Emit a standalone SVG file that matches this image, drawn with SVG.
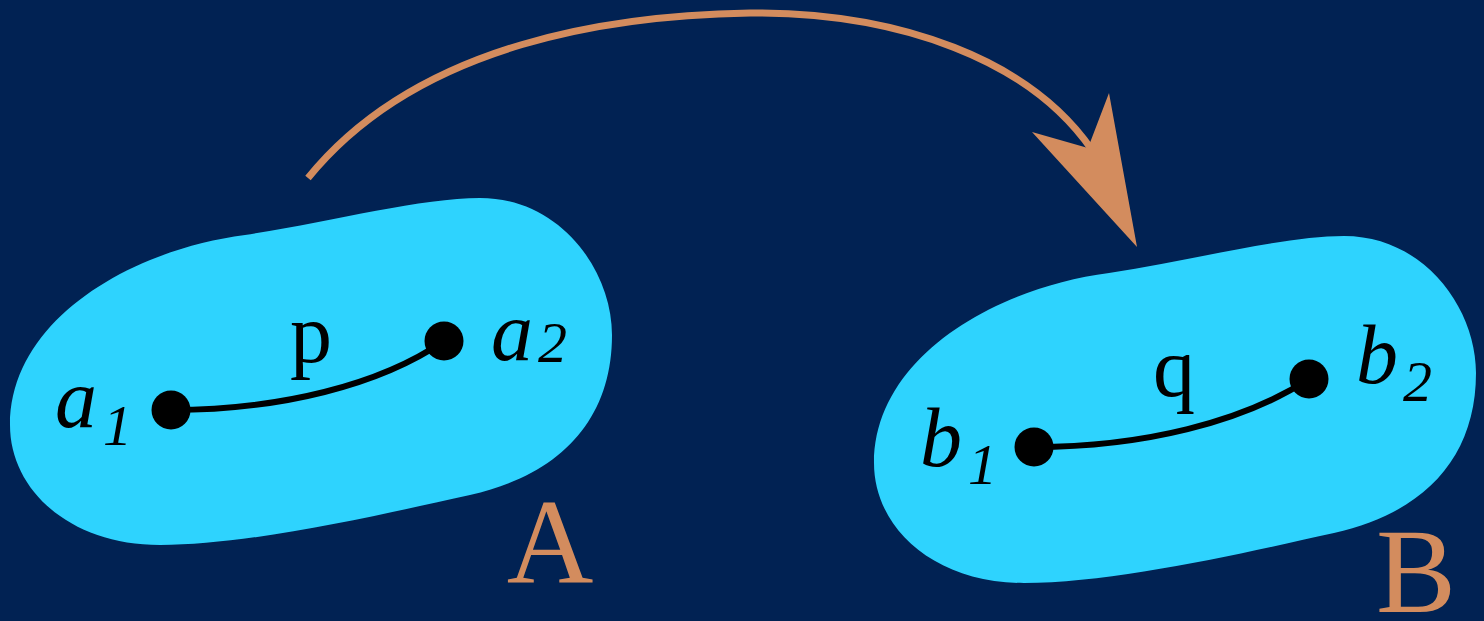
<svg xmlns="http://www.w3.org/2000/svg" width="1484" height="621" viewBox="0 0 1484 621">
<defs>
<style>
.blob{fill:#2ed3fe;}
.edge{fill:none;stroke:#000;stroke-width:6;}
.dot{fill:#000;}
.lbl{font-family:"Liberation Serif",serif;font-style:italic;font-size:84px;fill:#000;}
.up{font-family:"Liberation Serif",serif;font-size:84px;fill:#000;}
.sub{font-family:"Liberation Serif",serif;font-style:italic;font-size:58px;fill:#000;}
.set{font-family:"Liberation Serif",serif;font-size:120px;fill:#d38c5e;}
.arc{fill:none;stroke:#d38c5e;stroke-width:7;}
</style>
<path id="blobshape" d="M245,235 C330,222 420,198 480,198 C560,198 612,270 612,335 C612,420 560,475 470,495 C380,515 250,545 160,545 C70,545 10,490 10,425 C10,320 130,250 245,235 Z"/>
</defs>
<rect width="1484" height="621" fill="#012253"/>
<g id="setA">
<use href="#blobshape" class="blob"/>
<path class="edge" d="M171,410 C280,410 380,385 444,341"/>
<circle class="dot" cx="171" cy="410" r="19.5"/>
<circle class="dot" cx="444" cy="341" r="19.5"/>
<text class="lbl" x="55" y="427">a</text><text class="sub" x="103" y="445">1</text>
<text class="up" x="290" y="362">p</text>
<text class="lbl" x="491" y="360">a</text><text class="sub" x="538" y="362">2</text>
<text class="set" x="550" y="583" text-anchor="middle">A</text>
</g>
<g id="setB">
<use href="#blobshape" class="blob" transform="translate(864,38)"/>
<path class="edge" d="M1034,447 C1143,447 1243,422 1309,379"/>
<circle class="dot" cx="1034" cy="447" r="19.5"/>
<circle class="dot" cx="1309" cy="379" r="19.5"/>
<text class="lbl" x="920" y="466">b</text><text class="sub" x="968" y="484">1</text>
<text class="up" x="1153" y="396">q</text>
<text class="lbl" x="1356" y="383">b</text><text class="sub" x="1403" y="401">2</text>
<text class="set" x="1416" y="612" text-anchor="middle">B</text>
</g>
<g id="connectors">
<path class="arc" d="M308,178 C420,40 620,15 750,13 C900,12 1030,60 1092,150"/>
<polygon fill="#d38c5e" points="1109,93 1137,247 1032,132 1088,148"/>
</g>
</svg>
